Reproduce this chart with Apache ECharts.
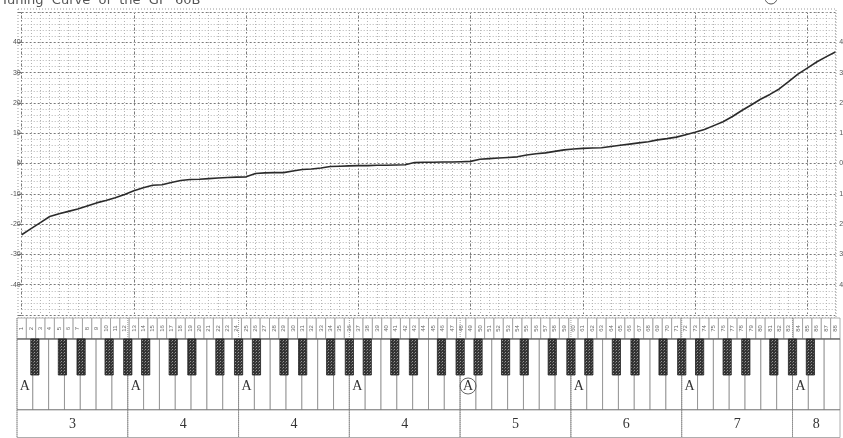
<!DOCTYPE html>
<html><head><meta charset="utf-8">
<script src="https://cdn.jsdelivr.net/npm/echarts@6/dist/echarts.min.js"></script>
<style>html,body{margin:0;padding:0;background:#fff}#c{width:843px;height:438px}</style>
</head><body><div id="c"></div>
<script>
// ---------- data ----------
const titleText = 'Tuning  Curve  of  the  GP  60B';
const keyNumbers = [];
for (let k = 1; k <= 88; k++) keyNumbers.push(k);
// deviation in cents, keys 1..88
const deviationCents = [
  -23.5, -21.5, -19.5, -17.5, -16.6, -15.8, -15.0, -14.0, -13.0, -12.2, -11.3, -10.2,
  -9.0, -8.0, -7.2, -7.0, -6.3, -5.6, -5.3, -5.2, -5.0, -4.8, -4.6, -4.5,
  -4.4, -3.3, -3.1, -3.0, -3.0, -2.5, -2.0, -1.8, -1.5, -1.0, -0.9, -0.8,
  -0.7, -0.7, -0.6, -0.6, -0.5, -0.4, 0.3, 0.4, 0.4, 0.5, 0.5, 0.6,
  0.7, 1.4, 1.6, 1.8, 2.0, 2.2, 2.8, 3.2, 3.5, 4.0, 4.5, 4.8,
  5.0, 5.1, 5.2, 5.6, 6.0, 6.4, 6.8, 7.2, 7.8, 8.2, 8.7, 9.5,
  10.3, 11.2, 12.5, 13.8, 15.5, 17.5, 19.3, 21.2, 22.8, 24.6, 27.0, 29.5,
  31.5, 33.5, 35.2, 36.8
];
const yTickLabels = [40, 30, 20, 10, 0, -10, -20, -30, -40];
const octaveLabels = ['3', '4', '4', '4', '5', '6', '7', '8'];
const aKeyNumbers = [1, 13, 25, 37, 49, 61, 73, 85];
const circledKey = 49;

// ---------- layout ----------
const KB_LEFT = 17, KB_RIGHT = 840, W = 843, H = 438;
const KEY_W = (KB_RIGHT - KB_LEFT) / 88;
const WHITE_COUNT = 52;
const blackSet = {1: 0.13, 4: -0.13, 6: 0.05, 9: -0.18, 11: 0.0}; // note idx -> offset (white units)

const whites = [], blacks = [];
let wi = 0;
keyNumbers.forEach(k => {
  const n = (k - 1) % 12;
  if (n in blackSet) blacks.push([wi + blackSet[n], k]);
  else { whites.push([wi, k]); wi++; }
});
const whiteIndexOf = {};
whites.forEach(w => whiteIndexOf[w[1]] = w[0]);

// hatch pattern for black keys
const pc = document.createElement('canvas');
pc.width = 3; pc.height = 3;
const pctx = pc.getContext('2d');
pctx.fillStyle = '#333'; pctx.fillRect(0, 0, 3, 3);
pctx.fillStyle = '#9a9a9a'; pctx.fillRect(1, 1, 1, 1);
pctx.fillStyle = '#666'; pctx.fillRect(0, 2, 1, 1);
const hatch = {image: pc, repeat: 'repeat'};

const chart = echarts.init(document.getElementById('c'), null, {renderer: 'canvas'});
const FONT = 'Liberation Sans';
const SERIF = 'Liberation Serif';
const showTick = v => yTickLabels.indexOf(v) >= 0;

const option = {
  animation: false,
  backgroundColor: '#fff',
  textStyle: {fontFamily: FONT},
  grid: [
    {left: KB_LEFT + KEY_W / 2, right: W - (KB_RIGHT - KEY_W / 2), top: 12, height: 303,
     outerBoundsMode: 'none', containLabel: false},
    {left: KB_LEFT, right: W - KB_RIGHT, top: 318, height: 120, outerBoundsMode: 'none', containLabel: false}
  ],
  xAxis: [
    {type: 'category', gridIndex: 0, data: keyNumbers, boundaryGap: false, position: 'bottom',
     axisLine: {show: false}, axisTick: {show: false}, axisLabel: {show: false},
     splitLine: {show: true, interval: i => i % 12 === 0, lineStyle: {color: '#7a7a7a', type: [2, 2], width: 1}}},
    {type: 'category', gridIndex: 0, data: keyNumbers, boundaryGap: false, position: 'top',
     axisLine: {show: false}, axisTick: {show: false}, axisLabel: {show: false},
     splitLine: {show: true, interval: 0, lineStyle: {color: '#b4b4b4', type: [1, 2], width: 1}}},
    {type: 'value', gridIndex: 1, min: 0, max: WHITE_COUNT, show: false},
    {type: 'value', gridIndex: 1, min: 0.5, max: 88.5, show: false}
  ],
  yAxis: [
    {type: 'value', gridIndex: 0, min: -50, max: 50, interval: 10, position: 'left',
     axisLine: {show: false},
     axisTick: {show: true, length: 4, lineStyle: {color: '#777'}},
     axisLabel: {fontSize: 7, color: '#555', margin: 1, formatter: v => showTick(v) ? String(v) : ''},
     splitLine: {show: true, lineStyle: {color: '#7a7a7a', type: [2, 2], width: 1}},
     minorSplitLine: {show: true, lineStyle: {color: '#b4b4b4', type: [1, 2], width: 1}},
     minorTick: {show: false, splitNumber: 5}},
    {type: 'value', gridIndex: 0, min: -50, max: 50, interval: 10, position: 'right',
     axisLine: {show: false}, axisTick: {show: false},
     axisLabel: {fontSize: 7, color: '#555', margin: 4, formatter: v => showTick(v) ? String(Math.abs(v)) : ''},
     splitLine: {show: false}},
    {type: 'value', gridIndex: 1, min: 0, max: 120, inverse: true, show: false}
  ],
  graphic: [
    {type: 'text', left: 1, top: -6, z: 10,
     style: {text: titleText, fontSize: 13, fill: '#555', fontFamily: 'DejaVu Sans'}},
    {type: 'arc', z: 10, shape: {cx: 771, cy: -2, r: 6, startAngle: 0, endAngle: Math.PI * 2},
     style: {stroke: '#555', fill: 'none', lineWidth: 1}},
    {type: 'rect', z: 0, silent: true, shape: {x: 18, y: 9, width: 818, height: 309},
     style: {stroke: '#999', fill: 'none', lineWidth: 1, lineDash: [1, 2]}}
  ],
  series: [
    {type: 'line', xAxisIndex: 0, yAxisIndex: 0, data: deviationCents, symbol: 'none',
     lineStyle: {color: '#2b2b2b', width: 1.6}, z: 5},
    // key number strip
    {type: 'custom', xAxisIndex: 3, yAxisIndex: 2, data: keyNumbers.map(k => [k]),
     renderItem: (p, api) => {
       const k = api.value(0);
       const a = api.coord([k - 0.5, 0]), b = api.coord([k + 0.5, 21]);
       return {type: 'group', children: [
         {type: 'rect', shape: {x: a[0], y: a[1], width: b[0] - a[0], height: b[1] - a[1]},
          style: {fill: '#fff', stroke: '#999', lineWidth: 0.8}},
         {type: 'text', x: (a[0] + b[0]) / 2, y: (a[1] + b[1]) / 2, rotation: Math.PI / 2,
          style: {text: String(k), fontSize: 6, fill: '#666', align: 'center', verticalAlign: 'middle', fontFamily: FONT}}
       ]};
     }},
    // white keys
    {type: 'custom', xAxisIndex: 2, yAxisIndex: 2, data: whites,
     renderItem: (p, api) => {
       const w = api.value(0);
       const a = api.coord([w, 21]), b = api.coord([w + 1, 92]);
       return {type: 'rect', shape: {x: a[0], y: a[1], width: b[0] - a[0], height: b[1] - a[1]},
               style: {fill: '#fff', stroke: '#888', lineWidth: 0.8}};
     }},
    // key top / bottom lines
    {type: 'custom', xAxisIndex: 2, yAxisIndex: 2, data: [[0, 21], [0, 92]],
     renderItem: (p, api) => {
       const a = api.coord([0, api.value(1)]), b = api.coord([WHITE_COUNT, api.value(1)]);
       return {type: 'line', shape: {x1: a[0], y1: a[1], x2: b[0], y2: b[1]},
               style: {stroke: '#555', lineWidth: 1.2}};
     }, z: 3},
    // black keys
    {type: 'custom', xAxisIndex: 2, yAxisIndex: 2, data: blacks, z: 4,
     renderItem: (p, api) => {
       const c = api.value(0), hw = 0.26;
       const a = api.coord([c - hw, 21]), b = api.coord([c + hw, 57]);
       return {type: 'rect', shape: {x: a[0], y: a[1], width: b[0] - a[0], height: b[1] - a[1]},
               style: {fill: hatch, stroke: '#222', lineWidth: 0.8}};
     }},
    // A labels
    {type: 'custom', xAxisIndex: 2, yAxisIndex: 2, data: aKeyNumbers.map(k => [whiteIndexOf[k], k]), z: 5,
     renderItem: (p, api) => {
       const w = api.value(0), k = api.value(1);
       const c = api.coord([w + 0.5, 68]);
       const kids = [{type: 'text', x: c[0], y: c[1],
         style: {text: 'A', fontSize: 14, fill: '#333', align: 'center', verticalAlign: 'middle', fontFamily: SERIF}}];
       if (k === circledKey) kids.push({type: 'circle', shape: {cx: c[0], cy: c[1], r: 8},
         style: {fill: 'none', stroke: '#555', lineWidth: 0.9}});
       return {type: 'group', children: kids};
     }},
    // octave row
    {type: 'custom', xAxisIndex: 2, yAxisIndex: 2, data: octaveLabels.map((l, i) => [i * 7, Math.min(i * 7 + 7, WHITE_COUNT), l]), z: 3,
     renderItem: (p, api) => {
       const x0 = api.value(0), x1 = api.value(1);
       const a = api.coord([x0, 92]), b = api.coord([x1, 120]);
       const top = api.coord([x0, 0]);
       return {type: 'group', children: [
         {type: 'rect', shape: {x: a[0], y: a[1], width: b[0] - a[0], height: b[1] - a[1] - 0.5},
          style: {fill: '#fff', stroke: '#999', lineWidth: 0.8}},
         {type: 'line', shape: {x1: a[0], y1: top[1], x2: a[0], y2: b[1]},
          style: {stroke: '#888', lineWidth: 0.8, lineDash: [1, 1]}},
         {type: 'text', x: (a[0] + b[0]) / 2, y: (a[1] + b[1]) / 2,
          style: {text: octaveLabels[p.dataIndex], fontSize: 14, fill: '#333', align: 'center', verticalAlign: 'middle', fontFamily: SERIF}}
       ]};
     }}
  ]
};
chart.setOption(option);
</script>
</body></html>
